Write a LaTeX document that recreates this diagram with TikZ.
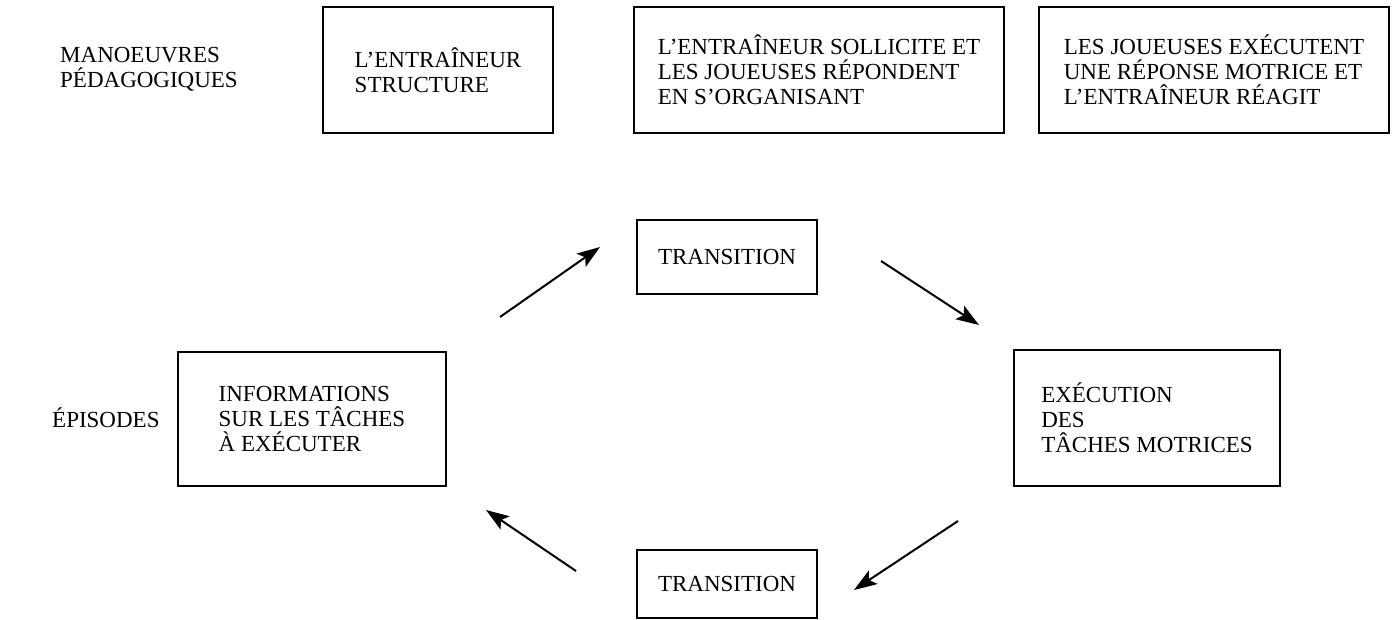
\documentclass[tikz,border=0pt]{standalone}
\usepackage{fontspec}
\setmainfont{Liberation Serif}
\usetikzlibrary{arrows.meta}
\begin{document}
\begin{tikzpicture}[x=1pt,y=-1pt,
  box/.style={draw, line width=1.8pt, align=left, font=\fontsize{23}{25}\selectfont, inner sep=0pt},
  lbl/.style={align=left, anchor=west, font=\fontsize{23}{25}\selectfont, inner sep=0pt},
  arr/.style={line width=2pt, -{Stealth[length=23pt,width=16pt,inset=5pt]}}]
\useasboundingbox (0,0) rectangle (1394,620);
% top row
\node[lbl] (man) at (60,69) {MANOEUVRES\\PÉDAGOGIQUES};
\node[box, minimum width=230pt, minimum height=126pt] (b1) at (438,70) {L'ENTRAÎNEUR\\STRUCTURE};
\node[box, minimum width=370pt, minimum height=126pt] (b2) at (819,70) {L'ENTRAÎNEUR SOLLICITE ET\\LES JOUEUSES RÉPONDENT\\EN S'ORGANISANT};
\node[box, minimum width=350pt, minimum height=126pt] (b3) at (1214,70) {LES JOUEUSES EXÉCUTENT\\UNE RÉPONSE MOTRICE ET\\L'ENTRAÎNEUR RÉAGIT};
% cycle
\node[box, minimum width=180pt, minimum height=74pt] (t1) at (727,257) {TRANSITION};
\node[box, minimum width=268pt, minimum height=134pt] (info) at (312,419) {INFORMATIONS\\SUR LES TÂCHES\\À EXÉCUTER};
\node[box, minimum width=266pt, minimum height=136pt] (exec) at (1147,418) {EXÉCUTION\\DES\\TÂCHES MOTRICES};
\node[box, minimum width=180pt, minimum height=68pt] (t2) at (727,584) {TRANSITION};
\node[lbl] (epi) at (52,418) {ÉPISODES};
% arrow ends
\coordinate (a1s) at (500,317);
\coordinate (a1e) at (600,247);
\coordinate (a2s) at (881,261);
\coordinate (a2e) at (979,325);
\coordinate (a3s) at (958,521);
\coordinate (a3e) at (854,590);
\coordinate (a4s) at (576,571);
\coordinate (a4e) at (486,510);
\draw[arr] (a1s) -- (a1e);
\draw[arr] (a2s) -- (a2e);
\draw[arr] (a3s) -- (a3e);
\draw[arr] (a4s) -- (a4e);
\end{tikzpicture}
\end{document}
